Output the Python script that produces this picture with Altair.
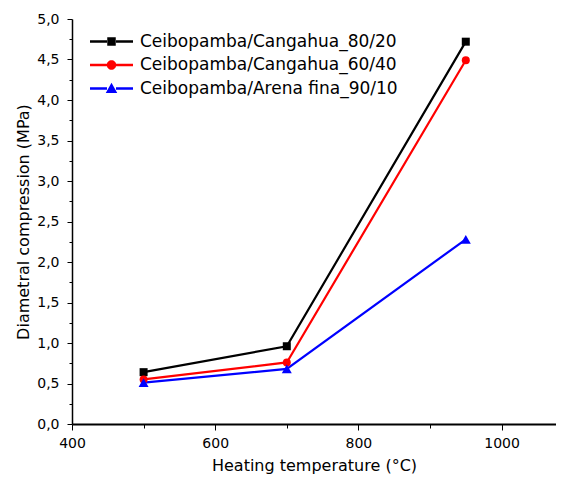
import altair as alt
import pandas as pd

# ---- data ----
temps = [500, 700, 950]
series_names = ["Ceibopamba/Cangahua_80/20", "Ceibopamba/Cangahua_60/40", "Ceibopamba/Arena fina_90/10"]
vals_80_20 = [0.64, 0.96, 4.72]
vals_60_40 = [0.55, 0.76, 4.49]
vals_90_10 = [0.51, 0.68, 2.28]
y_ticks = [i * 0.25 for i in range(21)]
x_ticks = [400, 500, 600, 700, 800, 900, 1000]

colors = ["#000000", "#ff0000", "#0000ff"]
marker_shapes = ["square", "circle", "triangle-up"]
marker_sizes = [64, 64, 100]

rows = []
for name, vals in zip(series_names, [vals_80_20, vals_60_40, vals_90_10]):
    for t, v in zip(temps, vals):
        rows.append({"temp": t, "val": v, "series": name})
df = pd.DataFrame(rows)

FONT = "DejaVu Sans"

# legend symbols: a line segment with the marker in the middle
seg = "M-4.3,-0.24H-0.9V0.24H-4.3Z M0.9,-0.24H4.3V0.24H0.9Z "
legend_paths = [
    seg + "M-0.85,-0.85H0.85V0.85H-0.85Z",
    seg + "M-0.95,0A0.95,0.95 0 1,1 0.95,0A0.95,0.95 0 1,1 -0.95,0Z",
    seg + "M0,-1.15L1.15,0.9H-1.15Z",
]

x_enc = alt.X(
    "temp:Q",
    scale=alt.Scale(domain=[400, 1076], nice=False, zero=False),
    axis=alt.Axis(
        title="Heating  temperature (°C)",
        values=x_ticks,
        labelExpr="datum.value % 200 == 0 ? format(datum.value, 'd') : ''",
        tickSize={"condition": {"test": "datum.value % 200 != 0", "value": 4}, "value": 6},
        labelPadding=6,
        titlePadding=7,
        domainWidth=2,
        labelOverlap=False,
        labelFlush=False,
    ),
)
y_enc = alt.Y(
    "val:Q",
    scale=alt.Scale(domain=[0, 5], nice=False, zero=True),
    axis=alt.Axis(
        title="Diametral compression (MPa)",
        values=y_ticks,
        labelExpr="datum.value % 0.5 == 0 ? replace(format(datum.value, '.1f'), '.', ',') : ''",
        tickSize={"condition": {"test": "datum.value % 0.5 != 0", "value": 3}, "value": 5},
        labelPadding=8,
        titlePadding=5.5,
        domainWidth=1.5,
        labelOverlap=False,
        labelFlush=False,
    ),
)

color_scale = alt.Scale(domain=series_names, range=colors)

lines = alt.Chart(df).mark_line(strokeWidth=2.2).encode(
    x=x_enc, y=y_enc,
    color=alt.Color("series:N", scale=color_scale, legend=None),
    detail="series:N",
)

marker_layers = []
for name, shp, sz in zip(series_names, marker_shapes, marker_sizes):
    marker_layers.append(
        alt.Chart(df).transform_filter(alt.datum.series == name)
        .mark_point(filled=True, shape=shp, size=sz, opacity=1)
        .encode(x=x_enc, y=y_enc,
                color=alt.Color("series:N", scale=color_scale, legend=None))
    )

# legend-only layer: all rows filtered out, legend built from the explicit scale domain
legend_layer = alt.Chart(df).transform_filter("false").mark_point(filled=True, opacity=1).encode(
    x=x_enc, y=y_enc,
    color=alt.Color(
        "series:N", scale=color_scale,
        legend=alt.Legend(
            title=None, orient="none", legendX=31, legendY=14,
            symbolSize=100, symbolStrokeWidth=0, symbolOpacity=1,
            labelFont=FONT, labelFontSize=17, labelColor="#000000",
            labelOffset=20, rowPadding=5.5, padding=0, labelLimit=400,
        ),
    ),
    shape=alt.Shape("series:N", scale=alt.Scale(domain=series_names, range=legend_paths)),
)

chart = alt.layer(lines, *marker_layers, legend_layer).resolve_scale(
    color="independent", shape="independent"
).properties(
    width=484, height=405,
    autosize=alt.AutoSizeParams(type="none"),
    padding={"left": 64, "top": 11, "right": 0, "bottom": 51},
    background="white",
).configure_view(stroke=None).configure_axis(
    labelFont=FONT, labelFontSize=14, labelColor="#000000",
    titleFont=FONT, titleFontSize=16, titleFontWeight="normal", titleColor="#000000",
    domainColor="#000000", tickColor="#000000", tickWidth=1, grid=False,
)

chart.save("out.html", embed_options={"renderer": "svg", "actions": False})
